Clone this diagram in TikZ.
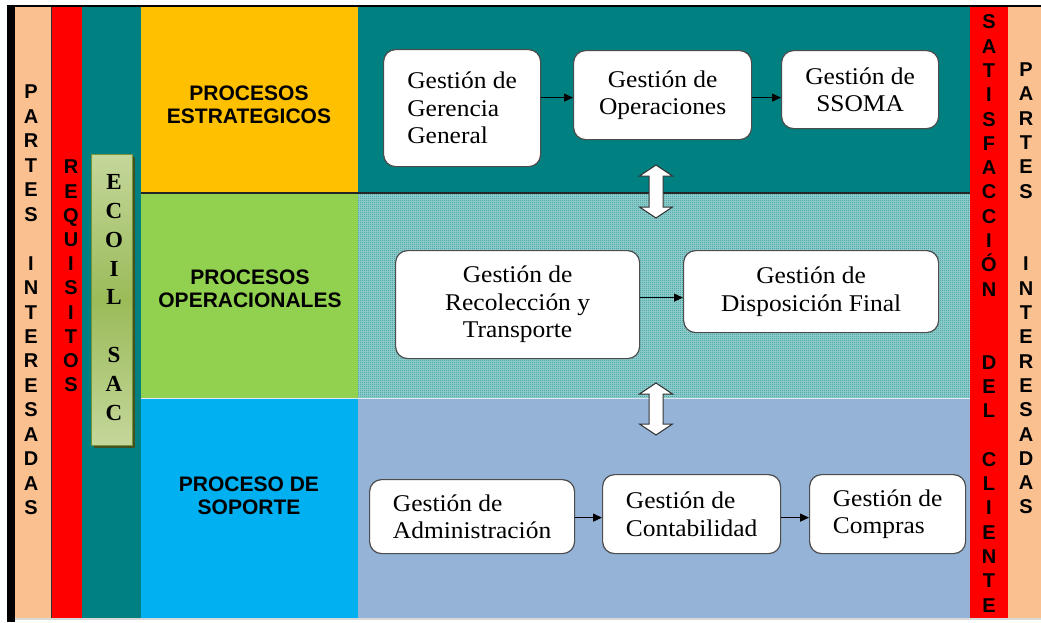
\documentclass[tikz,border=0pt]{standalone}
\usepackage{fontspec}
\setmainfont{Liberation Serif}
\newfontfamily\boxfont{Liberation Serif}[FakeStretch=1.06]
\newfontfamily\labfont{Liberation Sans}
\usetikzlibrary{arrows.meta,patterns.meta,calc}

\definecolor{peach}{HTML}{FAC090}
\definecolor{redc}{HTML}{FF0000}
\definecolor{tealc}{HTML}{008080}
\definecolor{yellowc}{HTML}{FFC000}
\definecolor{greenc}{HTML}{92D050}
\definecolor{bluec}{HTML}{00B0F0}
\definecolor{steelc}{HTML}{95B3D7}
\definecolor{dotbg}{HTML}{8CCACA}
\definecolor{ecotop}{HTML}{C4D79B}
\definecolor{ecomid}{HTML}{9BBB59}
\definecolor{ecoline}{HTML}{77933C}

\pgfdeclarepattern{
  name=ditherdots,
  type=uncolored,
  bottom left={\pgfpointorigin},
  top right={\pgfpoint{2pt}{2pt}},
  tile size={\pgfpoint{2pt}{2pt}},
  code={\pgfpathrectangle{\pgfpointorigin}{\pgfpoint{1pt}{1pt}}\pgfusepath{fill}}
}

\begin{document}
\begin{tikzpicture}[x=1pt,y=-1pt,
  box/.style={draw=black!70, line width=1.2pt, fill=white, rounded corners=12pt,
    inner sep=0pt, anchor=north west, font=\boxfont\fontsize{24}{27.5}\selectfont},
  flow/.style={-{Triangle[length=9pt,width=8pt]}, line width=1.4pt, black},
  band/.style={font=\labfont\bfseries\fontsize{21}{23}\selectfont, align=center, inner sep=0pt},
  vlet/.style={font=\labfont\bfseries\fontsize{20}{#1}\selectfont, align=center, inner sep=0pt},
  dblarrow/.style={draw=black!80, line width=1pt, fill=white, line join=miter}
]
\fill[white] (0,0) rectangle (1041,622);
\useasboundingbox (0,0) rectangle (1041,622);

% columns and bands
\fill[peach] (15,7) rectangle (52,618);
\fill[redc] (52,7) rectangle (82,618);
\fill[tealc] (82,7) rectangle (141,618);
\fill[yellowc] (141,7) rectangle (358,193);
\fill[greenc] (141,193) rectangle (358,398);
\fill[bluec] (141,398) rectangle (358,618);
\fill[tealc] (358,7) rectangle (970,193);
\fill[dotbg] (358,193) rectangle (970,398);
\fill[pattern=ditherdots, pattern color=tealc] (358,193) rectangle (970,398);
\fill[steelc] (358,398) rectangle (970,618);
\fill[redc] (970,7) rectangle (1008,618);
\fill[peach] (1008,7) rectangle (1041,618);

% frame lines
\fill[black] (7,5) rectangle (15,622);
\fill[black] (7,5) rectangle (1041,7);
\draw[black!80, line width=1pt] (51.5,7) -- (51.5,618);
\draw[black!85, line width=1.2pt] (141,193) -- (970,193);
\draw[white!70!steelc, line width=1pt] (141,398) -- (970,398);
\fill[black!15] (15,618) rectangle (1041,620);

% ECOIL SAC box
\fill[black!45!ecoline] (94,157) rectangle (135,448);
\node[draw=ecoline, line width=1pt, top color=ecotop, bottom color=ecotop, middle color=ecomid,
  minimum width=41pt, minimum height=291pt, anchor=north west, inner sep=0pt] (eco) at (91,154) {};
\node[font=\bfseries\fontsize{23}{28.9}\selectfont, align=center, inner sep=0pt] (ecot) at (114,297.5)
  {E\\C\\O\\I\\L\\~\\S\\A\\C};

% vertical letter labels
\node[vlet=24.47] (pil) at (31,300)
  {P\\A\\R\\T\\E\\S\\~\\I\\N\\T\\E\\R\\E\\S\\A\\D\\A\\S};
\node[vlet=24.2] (req) at (71,276)
  {R\\E\\Q\\U\\I\\S\\I\\T\\O\\S};
\node[vlet=24.3] (sat) at (989,313.5)
  {S\\A\\T\\I\\S\\F\\A\\C\\C\\I\\Ó\\N\\~\\~\\D\\E\\L\\~\\C\\L\\I\\E\\N\\T\\E};
\node[vlet=24.3] (pir) at (1026,288.5)
  {P\\A\\R\\T\\E\\S\\~\\~\\I\\N\\T\\E\\R\\E\\S\\A\\D\\A\\S};

% band labels
\node[band] (bandE) at (249,104.5) {PROCESOS\\ESTRATEGICOS};
\node[band] (bandO) at (250,289) {PROCESOS\\OPERACIONALES};
\node[band] (bandS) at (249,496) {PROCESO DE\\SOPORTE};

% process boxes
\node[box, align=left, minimum width=157pt, minimum height=117pt] (ger) at (383,49) {Gestión de\\Gerencia\\General};
\node[box, align=center, minimum width=178pt, minimum height=89pt] (opr) at (573,50) {Gestión de\\Operaciones};
\node[box, align=center, minimum width=157pt, minimum height=78pt] (sso) at (781,50) {Gestión de\\SSOMA};
\node[box, align=center, minimum width=244pt, minimum height=108pt] (rec) at (395,250) {Gestión de\\Recolección y\\Transporte};
\node[box, align=center, minimum width=255pt, minimum height=82pt] (dis) at (683,250) {Gestión de\\Disposición Final};
\node[box, align=left, minimum width=205pt, minimum height=74pt] (adm) at (369,479) {Gestión de\\Administración};
\node[box, align=left, minimum width=178pt, minimum height=79pt] (con) at (602,474) {Gestión de\\Contabilidad};
\node[box, align=left, minimum width=156pt, minimum height=79pt] (com) at (809,474) {Gestión de\\Compras};

% connectors
\coordinate (y1) at ($(opr.west)+(0,2.5)$);
\draw[flow] (y1 -| ger.east) -- (y1);
\draw[flow] (y1 -| opr.east) -- (y1 -| sso.west);
\coordinate (y2) at ($(dis.west)+(0,6)$);
\draw[flow, line width=1.1pt] (y2 -| rec.east) -- (y2);
\coordinate (y3) at ($(adm.east)+(0,1)$);
\draw[flow] (y3) -- (y3 -| con.west);
\draw[flow] (y3 -| con.east) -- (y3 -| com.west);

% double arrows between rows
\coordinate (da1) at (656,165);
\draw[dblarrow] (da1) -- ++(16.5,11) -- ++(-9.5,0) -- ++(0,31) -- ++(9.5,0) -- ++(-16.5,11)
  -- ++(-16.5,-11) -- ++(9.5,0) -- ++(0,-31) -- ++(-9.5,0) -- cycle;
\coordinate (da2) at (656,383);
\draw[dblarrow] (da2) -- ++(16.5,11) -- ++(-9.5,0) -- ++(0,30) -- ++(9.5,0) -- ++(-16.5,11)
  -- ++(-16.5,-11) -- ++(9.5,0) -- ++(0,-30) -- ++(-9.5,0) -- cycle;
\end{tikzpicture}
\end{document}
